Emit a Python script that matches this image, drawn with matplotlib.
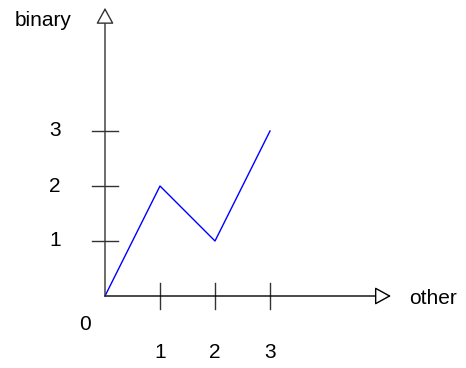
import matplotlib.pyplot as plt

plt.rcParams['font.family'] = ['Liberation Sans', 'DejaVu Sans']

# data
x_vals = [0, 1, 2, 3]
y_vals = [0, 2, 1, 3]
x_ticks = [1, 2, 3]
y_ticks = [1, 2, 3]
x_name = 'other'
y_name = 'binary'

W, H = 466, 368
ox, oy, unit = 105, 296, 55  # origin in pixels, pixels per unit

fig = plt.figure(figsize=(W / 100, H / 100), dpi=100)
ax = fig.add_axes([0, 0, 1, 1])
ax.set_xlim(-ox / unit, (W - ox) / unit)
ax.set_ylim(-(H - oy) / unit, oy / unit)
ax.axis('off')

ax_col = '#333333'
fs = 15

# axes with open arrow heads
head = '-|>,head_length=1.0,head_width=0.55'
ax.annotate('', xy=(5.2, 0), xytext=(0, 0),
            arrowprops=dict(arrowstyle=head, fc='white', ec='black', lw=1,
                            shrinkA=0, shrinkB=0))
ax.annotate('', xy=(0, 5.24), xytext=(0, 0),
            arrowprops=dict(arrowstyle=head, fc='white', ec=ax_col, lw=1,
                            shrinkA=0, shrinkB=0))

# tick marks
tl = 13 / unit
for t in x_ticks:
    ax.plot([t, t], [-tl, tl], color=ax_col, lw=1)
    ax.text(t, -57 / unit, str(t), ha='center', va='center', fontsize=fs)
for t in y_ticks:
    ax.plot([-tl, tl], [t, t], color=ax_col, lw=1)
    ax.text(-50 / unit, t, str(t), ha='center', va='center', fontsize=fs)

ax.text(-20 / unit, -29 / unit, '0', ha='center', va='center', fontsize=fs)
ax.text(328 / unit, -2 / unit, x_name, ha='center', va='center', fontsize=fs)
ax.text(-62 / unit, 276 / unit, y_name, ha='center', va='center', fontsize=fs)

ax.plot(x_vals, y_vals, color='#0000ff', lw=1)

plt.savefig('out.png', dpi=100)
plt.close()
